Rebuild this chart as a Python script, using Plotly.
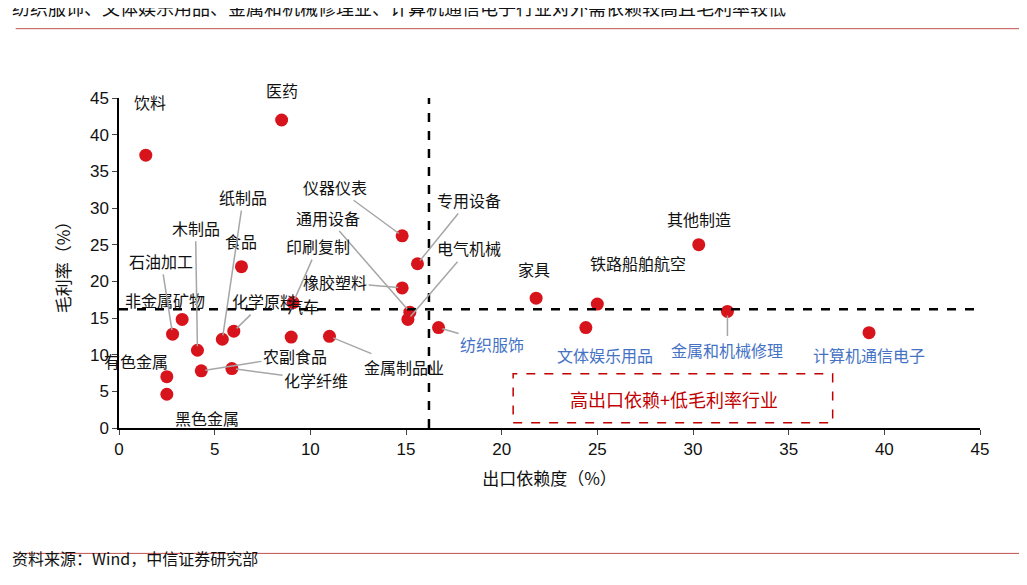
import plotly.graph_objects as go

names = ["饮料","医药","其他制造","计算机通信电子","金属和机械修理","文体娱乐用品","铁路船舶航空","家具","纺织服饰",
         "仪器仪表","专用设备","橡胶塑料","通用设备","电气机械","印刷复制","食品","非金属矿物","石油加工","纸制品",
         "化学原料","汽车","金属制品业","木制品","农副食品","化学纤维","有色金属","黑色金属"]
export = [1.4,8.5,30.3,39.2,31.8,24.4,25.0,21.8,16.7,
          14.8,15.6,14.8,15.2,15.1,9.1,6.4,3.3,2.8,5.4,
          6.0,9.0,11.0,4.1,4.3,5.9,2.5,2.5]
margin = [37.2,42.0,25.0,13.0,15.9,13.7,16.9,17.7,13.7,
          26.2,22.4,19.1,15.8,14.8,17.1,22.0,14.8,12.8,12.1,
          13.2,12.4,12.5,10.6,7.8,8.1,7.0,4.6]
# label positions (data coords) and whether a leader line is drawn
lab_x = [1.6,8.5,30.3,39.2,31.8,25.4,27.1,21.7,19.5,
         11.3,18.3,11.3,10.9,18.3,10.4,6.4,2.4,2.2,6.5,
         7.6,9.6,14.9,4.0,9.2,10.3,0.9,4.6]
lab_y = [44.4,45.5,28.5,9.9,10.7,9.9,22.5,21.7,11.5,
         32.9,31.1,19.9,28.7,24.5,24.8,25.5,17.4,22.8,31.5,
         17.3,16.6,8.3,27.3,9.8,6.6,9.1,1.3]
leader = [0,0,0,0,1,0,0,0,1,
          1,1,1,1,1,1,0,0,1,1,
          1,0,1,1,1,1,0,0]
blue_set = {"计算机通信电子","金属和机械修理","文体娱乐用品","纺织服饰"}

fig = go.Figure()
fig.add_trace(go.Scatter(x=export, y=margin, mode="markers",
                         marker=dict(color="#D7141C", size=13), hoverinfo="skip", cliponaxis=False))

ann = []
for n, px, py, lx, ly, ld in zip(names, export, margin, lab_x, lab_y, leader):
    col = "#4472C4" if n in blue_set else "#111111"
    if ld:
        ann.append(dict(x=px, y=py, ax=lx, ay=ly, axref="x", ayref="y", xref="x", yref="y",
                        text=n, showarrow=True, arrowhead=0, arrowwidth=1.5, arrowcolor="#A6A6A6",
                        standoff=4, font=dict(size=16, color=col)))
    elif n == "医药":
        ann.append(dict(x=lx, y=py, xref="x", yref="y", text=n, showarrow=True, arrowcolor="rgba(0,0,0,0)",
                        ax=0, ay=-30, font=dict(size=16, color=col)))
    else:
        ann.append(dict(x=lx, y=ly, xref="x", yref="y", text=n, showarrow=False,
                        font=dict(size=16, color=col)))
ann.append(dict(x=29.0, y=4.0, xref="x", yref="y", text="高出口依赖+低毛利率行业", showarrow=False,
                font=dict(size=18, color="#C00000")))
ann.append(dict(x=-0.127, y=1.32, xref="paper", yref="paper", xanchor="left", yanchor="top",
                text="纺织服饰、文体娱乐用品、金属和机械修理业、计算机通信电子行业对外需依赖较高且毛利率较低",
                showarrow=False, font=dict(size=18, color="#111111")))
ann.append(dict(x=-0.127, y=-0.435, xref="paper", yref="paper", xanchor="left", yanchor="bottom",
                text="资料来源：Wind，中信证券研究部", showarrow=False, font=dict(size=16, color="#111111")))

shapes = [
    dict(type="line", xref="x", yref="y", x0=16.2, x1=16.2, y0=0, y1=45, line=dict(color="black", width=2.5, dash="dash")),
    dict(type="line", xref="x", yref="y", x0=0, x1=45, y0=16.2, y1=16.2, line=dict(color="black", width=2.5, dash="dash")),
    dict(type="rect", xref="x", yref="y", x0=20.6, x1=37.3, y0=0.7, y1=7.4, line=dict(color="#C00000", width=1.5, dash="dash")),
    dict(type="line", xref="paper", yref="paper", x0=-0.12, x1=1.06, y0=1.21, y1=1.21, line=dict(color="#C0504D", width=1)),
    dict(type="line", xref="paper", yref="paper", x0=-0.12, x1=1.06, y0=-0.38, y1=-0.38, line=dict(color="#C0504D", width=1)),
]

fig.update_layout(
    width=1027, height=585, paper_bgcolor="white", plot_bgcolor="white",
    margin=dict(l=111, r=55, t=90, b=165),
    font=dict(family="Noto Sans CJK SC, Arial", size=16, color="#111111"),
    showlegend=False, annotations=ann, shapes=shapes,
    xaxis=dict(range=[0,45], dtick=5, showgrid=False, zeroline=False, showline=True, linecolor="black",
               linewidth=1.5, ticks="outside", ticklen=5, tickfont=dict(family="Arial", size=17),
               title=dict(text="出口依赖度（%）", font=dict(size=17)), fixedrange=True),
    yaxis=dict(range=[0,45], dtick=5, showgrid=False, zeroline=False, showline=True, linecolor="black",
               linewidth=1.5, ticks="outside", ticklen=5, tickfont=dict(family="Arial", size=17),
               title=dict(text="毛利率（%）", font=dict(size=17)), fixedrange=True),
)
fig.write_html("out.html")
